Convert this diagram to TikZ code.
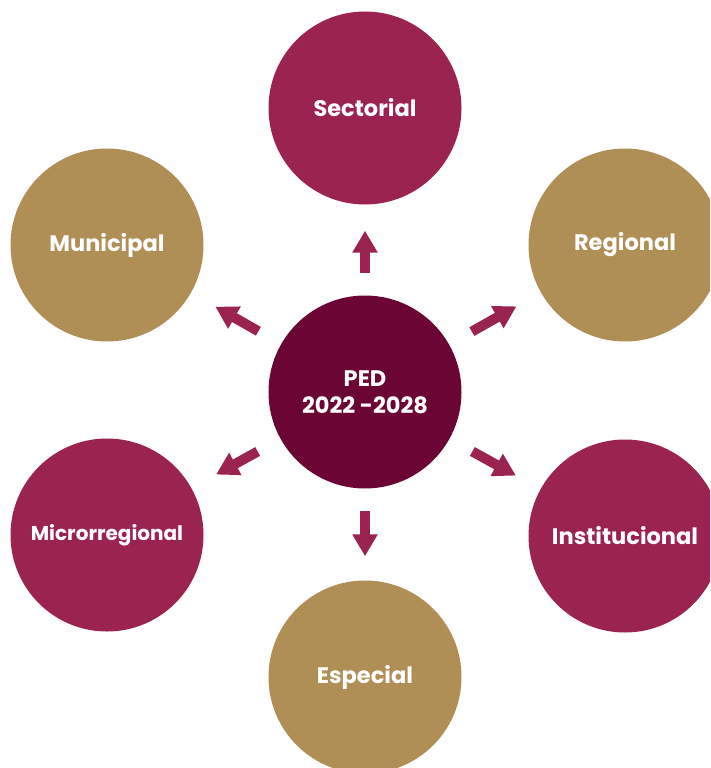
\documentclass[tikz,border=0pt]{standalone}
\usepackage{fontspec}
\setmainfont{Poppins}
\usetikzlibrary{arrows.meta}
\definecolor{cwine}{HTML}{9B2350}
\definecolor{cgold}{HTML}{AF8F56}
\definecolor{cdark}{HTML}{6B0534}
\tikzset{
  every picture/.style={x=1pt, y=-1pt},
  disc/.style={circle, fill=#1, minimum size=193pt, inner sep=0pt, align=center, text=white, font=\bfseries\fontsize{22.5}{27}\selectfont},
  disc/.default=cwine,
  arrow/.style={-{Triangle[width=24pt, length=22pt]}, draw=cwine, line width=10pt, shorten <=22pt, shorten >=2pt},
}
\begin{document}
\begin{tikzpicture}
  \useasboundingbox (0,0) rectangle (710,768);
  \begin{scope}
  \clip (0,0) rectangle (710,768);
  \node[disc=cdark] (ped) at (365,392) {PED\\2022 -2028};
  \node[disc] (sec) at (365,108) {Sectorial};
  \node[disc=cgold] (mun) at (107,245) {Municipal};
  \node[disc=cgold] (reg) at (625,245) {Regional};
  \node[disc, font=\bfseries\fontsize{20}{24}\selectfont] (mic) at (107,535) {Microrregional};
  \node[disc] (ins) at (625,536) {Institucional};
  \node[disc=cgold] (esp) at (365,677) {Especial};
  \end{scope}
  \draw[arrow, shorten >=26pt] (ped) -- (sec);
  \draw[arrow, shorten <=26pt, shorten >=28pt] (ped) -- (mun);
  \draw[arrow, shorten <=26pt, shorten >=28pt] (ped) -- (reg);
  \draw[arrow, shorten <=26pt, shorten >=28pt] (ped) -- (mic);
  \draw[arrow, shorten <=26pt, shorten >=28pt] (ped) -- (ins);
  \draw[arrow, shorten <=22pt, shorten >=24pt] (ped) -- (esp);
\end{tikzpicture}
\end{document}
